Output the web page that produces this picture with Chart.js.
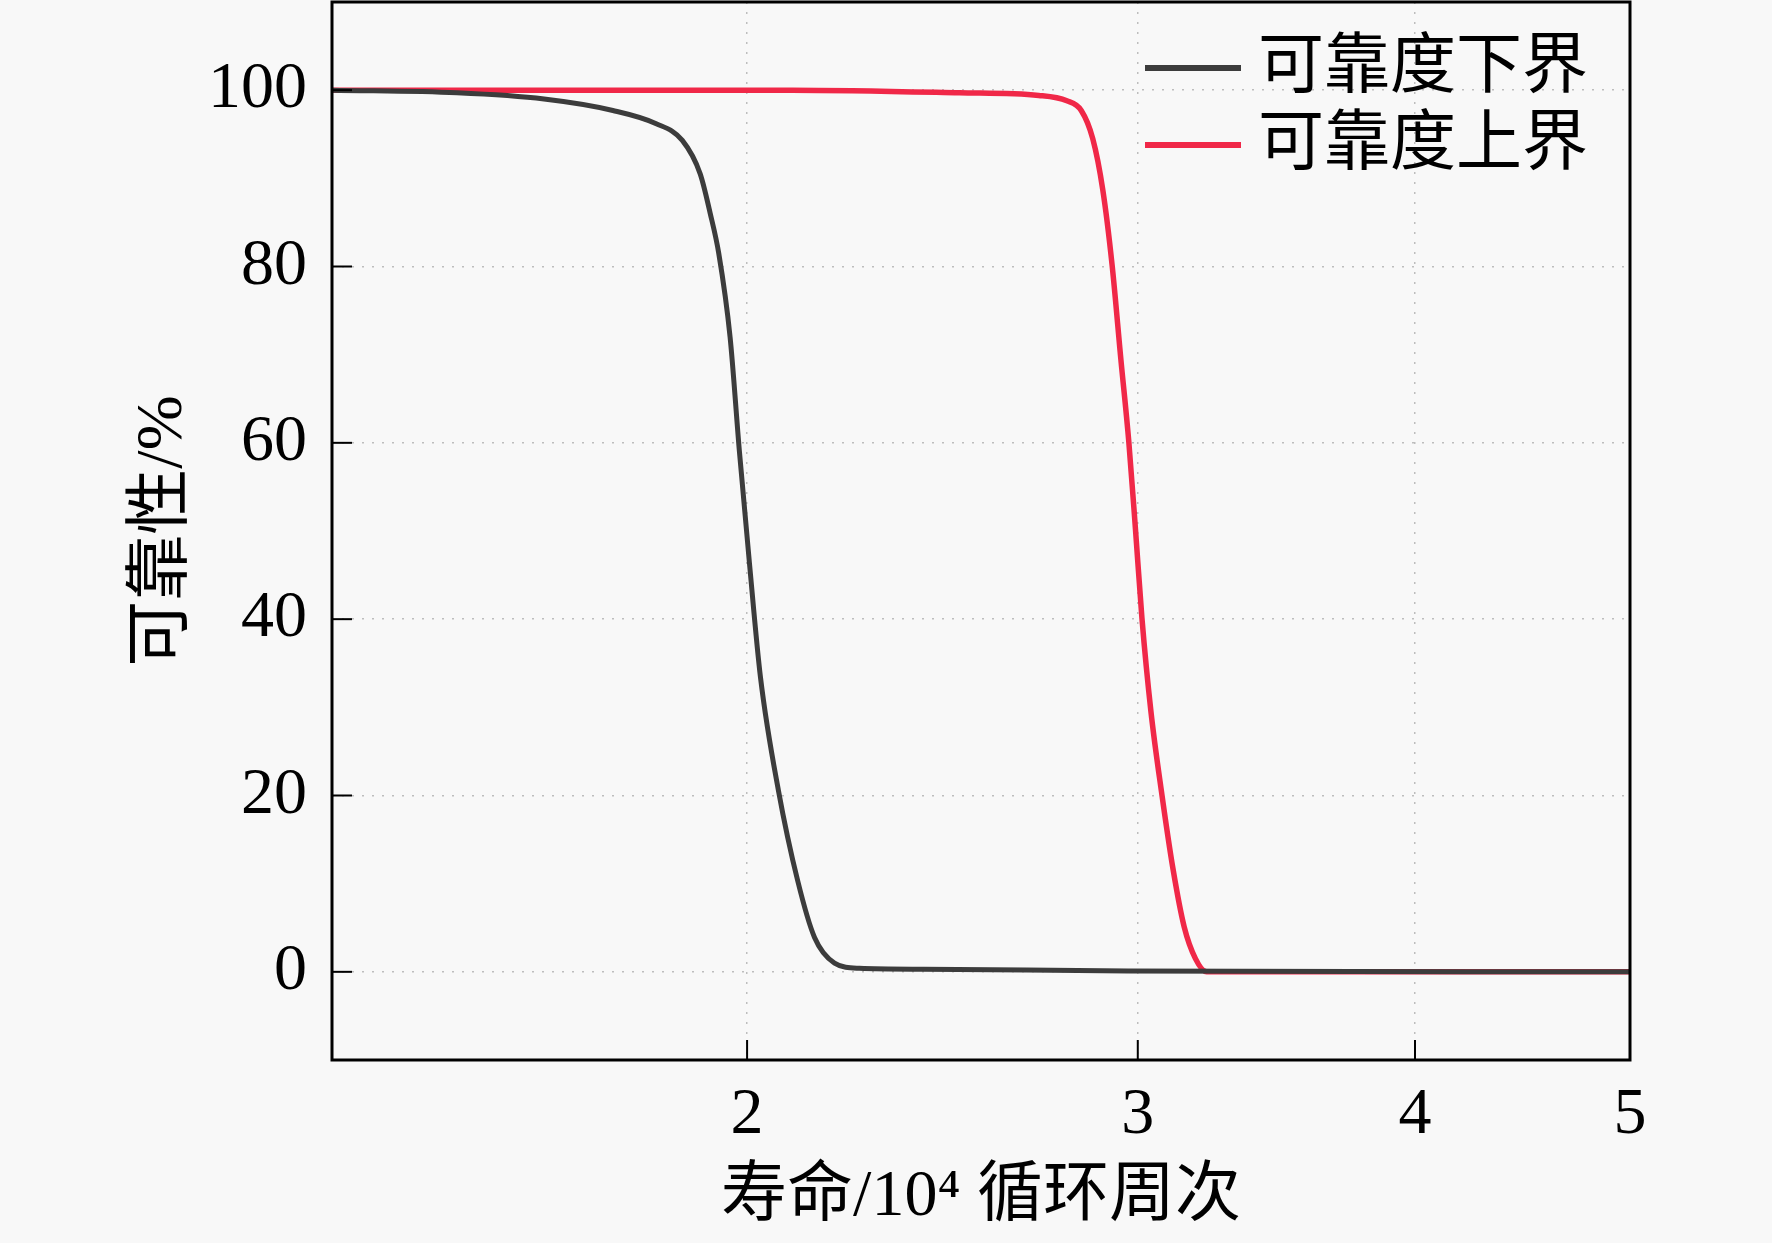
<!DOCTYPE html>
<html>
<head>
<meta charset="utf-8">
<script src="https://cdn.jsdelivr.net/npm/chart.js@4.4.1/dist/chart.umd.min.js"></script>
<style>
html,body{margin:0;padding:0;background:#f8f8f8;}
canvas{display:block;}
</style>
</head>
<body>
<canvas id="c" width="1772" height="1243"></canvas>
<script>
// ---- data (life in 10^4 cycles, reliability in %) ----
const seriesNames = ['可靠度下界', '可靠度上界'];
const lowerX = [1.3, 1.48, 1.62, 1.74, 1.82, 1.87, 1.905, 1.925, 1.942, 1.965, 1.984, 2.005, 2.028, 2.066, 2.108, 2.145, 2.19, 2.247, 2.4, 2.97, 5];
const lowerY = [100, 99.7, 99, 97.7, 96.2, 94.3, 90.5, 86, 81.5, 72, 59.1, 46.3, 33.4, 20.6, 10.3, 3.9, 1.0, 0.4, 0.3, 0.1, 0];
const upperX = [1.3, 2.095, 2.493, 2.707, 2.787, 2.829, 2.863, 2.893, 2.921, 2.948, 2.972, 2.993, 3.013, 3.041, 3.076, 3.112, 3.148, 3.185, 3.222, 3.751, 5];
const upperY = [100, 100, 99.7, 99.4, 98.8, 97.7, 94.5, 88.7, 80.2, 69.4, 60.2, 50.1, 40.1, 29.6, 20.1, 11.6, 5.1, 1.5, 0, 0, 0];
const xTicks = [2, 3, 4, 5];
const yTicks = [0, 20, 40, 60, 80, 100];
const xTitle = '寿命/10⁴ 循环周次';
const yTitle = '可靠性/%';
const colors = ['#3c3c3c', '#f02848'];

const FONT = '"Liberation Serif", "Times New Roman", "Noto Sans CJK SC", serif';

const toPts = (xs, ys) => xs.map((x, i) => ({x: x, y: ys[i]}));

const framePlugin = {
  id: 'frame',
  afterDatasetsDraw(chart) {
    const {ctx, chartArea: a, scales} = chart;
    ctx.save();
    // inner tick marks
    ctx.strokeStyle = '#000';
    ctx.lineWidth = 2;
    const tl = 20;
    xTicks.forEach(v => {
      const px = scales.x.getPixelForValue(v);
      ctx.beginPath(); ctx.moveTo(px, a.bottom); ctx.lineTo(px, a.bottom - tl); ctx.stroke();
    });
    yTicks.forEach(v => {
      const py = scales.y.getPixelForValue(v);
      ctx.beginPath(); ctx.moveTo(a.left, py); ctx.lineTo(a.left + tl, py); ctx.stroke();
    });
    // frame
    ctx.lineWidth = 3;
    ctx.strokeRect(a.left, a.top, a.right - a.left, a.bottom - a.top);
    // legend
    ctx.font = '66px ' + FONT;
    ctx.textBaseline = 'middle';
    ctx.textAlign = 'left';
    const ly = [68, 145];
    chart.data.datasets.forEach((ds, i) => {
      ctx.strokeStyle = ds.borderColor;
      ctx.lineWidth = 6;
      ctx.beginPath(); ctx.moveTo(1145, ly[i]); ctx.lineTo(1241, ly[i]); ctx.stroke();
      ctx.fillStyle = '#000';
      ctx.fillText(ds.label, 1258, ly[i] + 2);
    });
    ctx.restore();
  }
};

const bgPlugin = {
  id: 'bg',
  beforeDraw(chart) {
    const ctx = chart.ctx;
    ctx.save();
    ctx.fillStyle = '#f8f8f8';
    ctx.fillRect(0, 0, chart.width, chart.height);
    ctx.restore();
  }
};

const gridOpts = {color: '#bdbdbd', lineWidth: 1.5, drawTicks: false};
const borderOpts = {display: false, dash: [2, 8]};

new Chart(document.getElementById('c'), {
  type: 'line',
  data: {
    datasets: [
      {label: seriesNames[0], data: toPts(lowerX, lowerY), borderColor: colors[0], borderWidth: 5, pointRadius: 0, cubicInterpolationMode: 'monotone', fill: false},
      {label: seriesNames[1], data: toPts(upperX, upperY), borderColor: colors[1], borderWidth: 5.5, pointRadius: 0, cubicInterpolationMode: 'monotone', fill: false}
    ]
  },
  options: {
    responsive: false,
    devicePixelRatio: 1,
    animation: false,
    layout: {padding: {top: 2, right: 142, left: 0, bottom: 0}},
    plugins: {legend: {display: false}, tooltip: {enabled: false}},
    scales: {
      x: {
        type: 'logarithmic',
        min: 1.3, max: 5,
        afterBuildTicks: s => { s.ticks = xTicks.map(v => ({value: v})); },
        afterFit: s => { s.height = 183; s.paddingLeft = 0; s.paddingRight = 0; },
        grid: gridOpts,
        border: borderOpts,
        ticks: {color: '#000', font: {size: 66, family: FONT}, padding: 16, maxRotation: 0, autoSkip: false,
                callback: v => String(v)},
        title: {display: true, text: xTitle, color: '#000', font: {size: 66, family: FONT}, padding: {top: 0, bottom: 6}}
      },
      y: {
        type: 'linear',
        min: -10, max: 110,
        afterBuildTicks: s => { s.ticks = yTicks.map(v => ({value: v})); },
        afterFit: s => { s.width = 332; s.paddingTop = 0; s.paddingBottom = 0; },
        grid: gridOpts,
        border: borderOpts,
        ticks: {color: '#000', font: {size: 66, family: FONT}, padding: 25, callback: v => String(v)},
        title: {display: true, text: yTitle, color: '#000', font: {size: 66, family: FONT}, padding: {top: 124, bottom: 0}}
      }
    }
  },
  plugins: [bgPlugin, framePlugin]
});
</script>
</body>
</html>
